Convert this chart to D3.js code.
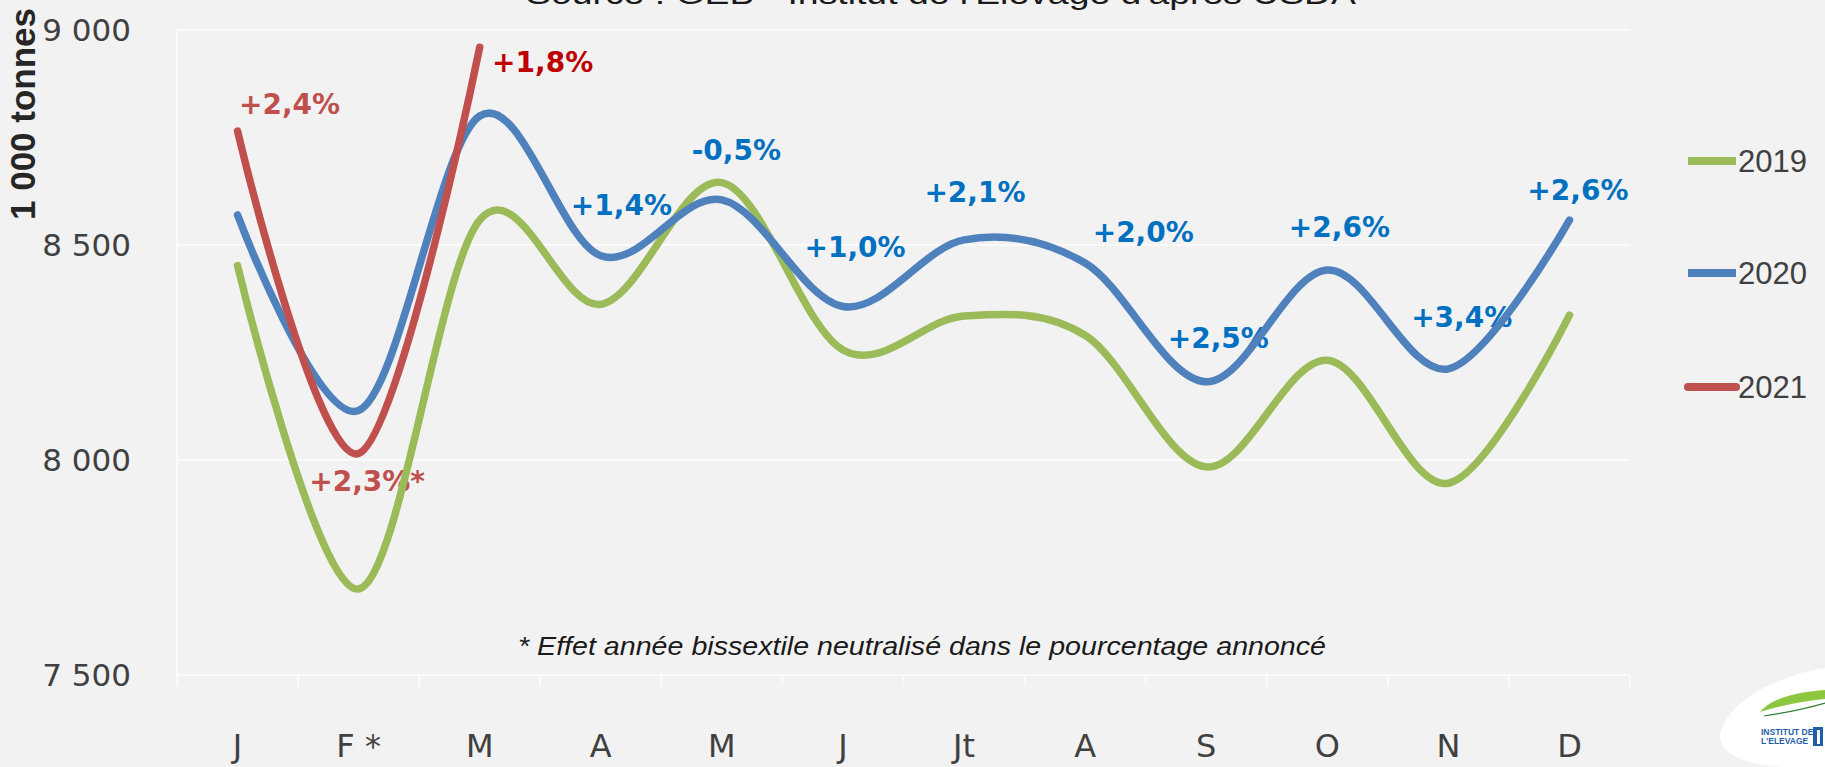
<!DOCTYPE html>
<html>
<head>
<meta charset="utf-8">
<script src="https://cdn.jsdelivr.net/npm/d3@7"></script>
<style>
  html, body { margin: 0; padding: 0; background: #f2f2f2; }
  svg { display: block; }
</style>
</head>
<body>
<svg id="chart" width="1825" height="767"></svg>
<script>
// ---------- DATA ----------
const months = ["J", "F *", "M", "A", "M", "J", "Jt", "A", "S", "O", "N", "D"];
const yTicks = [7500, 8000, 8500, 9000];
const seriesNames = ["2019", "2020", "2021"];
const values2019 = [8452, 7700, 8558, 8362, 8645, 8256, 8335, 8290, 7984, 8232, 7946, 8337];
const values2020 = [8570, 8115, 8800, 8475, 8605, 8357, 8512, 8458, 8182, 8442, 8212, 8558];
const values2021 = [8765, 8015, 8960];
// annotation texts with their position in data units (month index, tonnes)
const annTexts2021 = ["+2,4%", "+2,3%*", "+1,8%"];
const annIdx2021   = [0.43, 1.07, 2.52];
const annVal2021   = [8828, 7951, 8926];
const annTexts2020 = ["+1,4%", "-0,5%", "+1,0%", "+2,1%", "+2,0%", "+2,5%", "+2,6%", "+3,4%", "+2,6%"];
const annIdx2020   = [3.17, 4.12, 5.10, 6.09, 7.48, 8.10, 9.10, 10.11, 11.07];
const annVal2020   = [8593, 8721, 8495, 8623, 8530, 8284, 8542, 8333, 8628];
const titleText = "Source : GEB - Institut de l'Elevage d'après USDA";
const yTitle = "1 000 tonnes";
const footnote = "* Effet année bissextile neutralisé dans le pourcentage annoncé";

// ---------- LAYOUT ----------
const svg = d3.select("#chart");
const W = 1825, H = 767;
const plot = { left: 177, right: 1630, top: 30, bottom: 675 };
const colors = { "2019": "#9bbb59", "2020": "#4f81bd", "2021": "#c0504d" };

svg.append("rect").attr("width", W).attr("height", H).attr("fill", "#f2f2f2");

const x = d3.scaleBand().domain(d3.range(months.length)).range([plot.left, plot.right]);
const xc = i => x(0) + x.bandwidth() * (i + 0.5);
const y = d3.scaleLinear().domain([7500, 9000]).range([plot.bottom, plot.top]);

// gridlines
svg.append("g").selectAll("line").data(yTicks).join("line")
  .attr("x1", plot.left).attr("x2", plot.right)
  .attr("y1", d => y(d)).attr("y2", d => y(d))
  .attr("stroke", "#fbfbfb").attr("stroke-width", 2);
svg.append("line").attr("x1", plot.left).attr("x2", plot.left)
  .attr("y1", plot.top).attr("y2", plot.bottom + 10)
  .attr("stroke", "#fbfbfb").attr("stroke-width", 2);

// y axis labels
const yAxis = d3.axisLeft(y).tickValues(yTicks)
  .tickFormat(d => d3.format(",")(d).replace(",", " ")).tickSize(0).tickPadding(0);
const gy = svg.append("g").attr("transform", `translate(131,0)`).call(yAxis);
gy.select(".domain").remove();
gy.selectAll("text").attr("font-family", "DejaVu Sans").attr("font-size", 31)
  .attr("fill", "#404040").attr("dy", "0.35em");

// x axis
const xAxis = d3.axisBottom(x).tickFormat(i => months[i]).tickSize(0).tickPadding(0);
const gx = svg.append("g").attr("transform", `translate(0,${plot.bottom})`).call(xAxis);
gx.select(".domain").remove();
gx.selectAll("text").attr("font-family", "DejaVu Sans").attr("font-size", 32)
  .attr("fill", "#404040").attr("dy", null).attr("y", 82);
// band boundary ticks
svg.append("g").selectAll("line").data(d3.range(months.length + 1)).join("line")
  .attr("x1", i => x(0) + x.bandwidth() * i).attr("x2", i => x(0) + x.bandwidth() * i)
  .attr("y1", plot.bottom).attr("y2", plot.bottom + 11)
  .attr("stroke", "#fbfbfb").attr("stroke-width", 2);

// y title
svg.append("text").attr("transform", "translate(35,114) rotate(-90)")
  .attr("text-anchor", "middle").attr("font-family", "Liberation Sans")
  .attr("font-weight", "bold").attr("font-size", 35).attr("fill", "#262626")
  .attr("textLength", 212).attr("lengthAdjust", "spacingAndGlyphs")
  .text(yTitle);

// source title (cut at top, as in the reference)
svg.append("text").attr("x", 941).attr("y", 4).attr("text-anchor", "middle")
  .attr("font-family", "Liberation Sans").attr("font-size", 30).attr("fill", "#1a1a1a")
  .attr("textLength", 830).attr("lengthAdjust", "spacingAndGlyphs")
  .text(titleText);

// footnote
svg.append("text").attr("x", 922).attr("y", 655).attr("text-anchor", "middle")
  .attr("font-family", "Liberation Sans").attr("font-style", "italic")
  .attr("font-size", 25).attr("fill", "#1a1a1a")
  .attr("textLength", 808).attr("lengthAdjust", "spacingAndGlyphs")
  .text(footnote);

// annotations (drawn below lines)
function annotate(texts, idx, vals, colorFn) {
  svg.append("g").selectAll("text").data(texts).join("text")
    .attr("x", (d, i) => xc(idx[i])).attr("y", (d, i) => y(vals[i]))
    .attr("dy", "0.36em").attr("text-anchor", "middle")
    .attr("font-family", "DejaVu Sans").attr("font-weight", "bold")
    .attr("font-size", 28).attr("fill", (d, i) => colorFn(i))
    .text(d => d);
}
annotate(annTexts2021, annIdx2021, annVal2021, i => i === 2 ? "#c00000" : "#c0504d");
annotate(annTexts2020, annIdx2020, annVal2020, () => "#0070c0");

// lines
const line = d3.line().x((d, i) => xc(i)).y(d => y(d)).curve(d3.curveCardinal.tension(0));
[[values2019, "2019"], [values2020, "2020"], [values2021, "2021"]].forEach(([vals, name]) => {
  svg.append("path").attr("d", line(vals)).attr("fill", "none")
    .attr("stroke", colors[name]).attr("stroke-width", 7.5)
    .attr("stroke-linecap", "round").attr("stroke-linejoin", "round");
});

// legend
const legY = [161, 273, 387];
const lg = svg.append("g").selectAll("g").data(seriesNames).join("g")
  .attr("transform", (d, i) => `translate(0,${legY[i]})`);
lg.append("line").attr("x1", 1688).attr("x2", 1736).attr("y1", 0).attr("y2", 0)
  .attr("stroke", d => colors[d]).attr("stroke-width", 8)
  .attr("stroke-linecap", (d, i) => i === 2 ? "round" : "butt");
lg.append("text").attr("x", 1738).attr("y", 0).attr("dy", "0.36em")
  .attr("font-family", "Liberation Sans").attr("font-size", 31).attr("fill", "#404040")
  .text(d => d);

// logo (bottom right)
const logo = svg.append("g");
logo.append("path")
  .attr("d", "M1825,668 C1775,676 1732,700 1721,730 C1714,754 1748,767 1790,767 L1825,767 Z")
  .attr("fill", "#ffffff");
logo.append("path")
  .attr("d", "M1760,712 C1772,697 1800,692 1825,690 L1825,699 C1805,701 1782,705 1760,712 Z")
  .attr("fill", "#8dc63f");
logo.append("path")
  .attr("d", "M1764,716 C1790,712 1808,708 1825,703")
  .attr("fill", "none").attr("stroke", "#2e7d32").attr("stroke-width", 1.2);
logo.append("text").attr("x", 1761).attr("y", 735).attr("font-family", "Liberation Sans")
  .attr("font-weight", "bold").attr("font-size", 8.5).attr("fill", "#1f5fa8").text("INSTITUT DE");
logo.append("text").attr("x", 1761).attr("y", 744).attr("font-family", "Liberation Sans")
  .attr("font-weight", "bold").attr("font-size", 8.5).attr("fill", "#1f5fa8").text("L'ELEVAGE");
logo.append("rect").attr("x", 1813).attr("y", 727).attr("width", 10).attr("height", 19)
  .attr("fill", "#1f5fa8");
logo.append("rect").attr("x", 1817).attr("y", 730).attr("width", 3).attr("height", 14)
  .attr("fill", "#ffffff");
</script>
</body>
</html>
